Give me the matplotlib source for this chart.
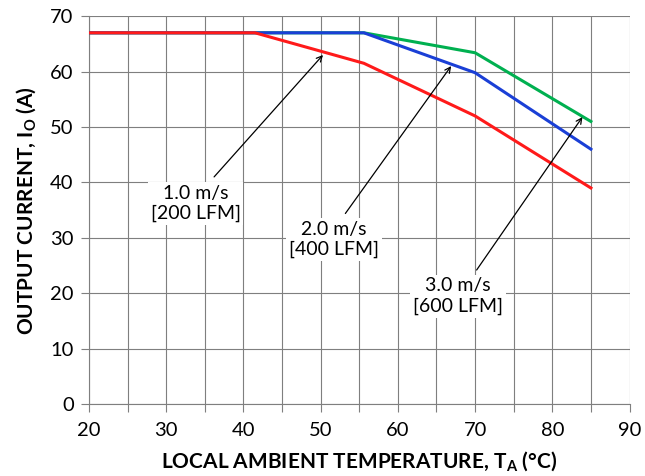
import matplotlib
matplotlib.use("Agg")
import matplotlib.pyplot as plt
from matplotlib.ticker import MultipleLocator

plt.rcParams['font.family'] = ['Lato', 'DejaVu Sans']

# derating curves, output current vs local ambient temperature
temp_1ms = [20, 41.5, 55.6, 70, 85]
curr_1ms = [67, 67, 61.5, 52, 39]
temp_2ms = [20, 55.6, 70, 85]
curr_2ms = [67, 67, 59.8, 46]
temp_3ms = [20, 55.6, 70, 85]
curr_3ms = [67, 67, 63.4, 51]

labels = ["1.0 m/s\n[200 LFM]", "2.0 m/s\n[400 LFM]", "3.0 m/s\n[600 LFM]"]
label_pos = [(33.8, 36.2), (51.7, 29.7), (67.8, 19.5)]
arrow_tail = [(36.2, 41.0), (53.2, 34.4), (70.2, 24.2)]
arrow_tip = [(50.3, 63.0), (66.9, 61.0), (83.9, 51.8)]

fig = plt.figure(figsize=(6.45, 4.76), dpi=100)
ax = fig.add_axes([0.138, 0.151, 0.838, 0.815])

grid_c = '#7f7f7f'
ax.set_xlim(20, 90)
ax.set_ylim(0, 70)
ax.xaxis.set_major_locator(MultipleLocator(10))
ax.xaxis.set_minor_locator(MultipleLocator(5))
ax.yaxis.set_major_locator(MultipleLocator(10))
ax.grid(True, which='both', axis='x', color=grid_c, lw=0.8)
ax.grid(True, which='major', axis='y', color=grid_c, lw=0.8)
ax.set_axisbelow(True)
for s in ['top', 'right']:
    ax.spines[s].set_visible(False)
for s in ['left', 'bottom']:
    ax.spines[s].set_color(grid_c)
    ax.spines[s].set_linewidth(0.8)
ax.tick_params(which='both', color=grid_c, width=0.8, length=6, labelsize=14.5)
ax.tick_params(axis='x', pad=7)
ax.tick_params(axis='y', pad=5)

ax.plot(temp_3ms, curr_3ms, color='#00b050', lw=2.2, zorder=3)
ax.plot(temp_2ms, curr_2ms, color='#1a3fd6', lw=2.2, zorder=4)
ax.plot(temp_1ms, curr_1ms, color='#ff1a1a', lw=2.2, zorder=5)

for lab, (lx, ly), tail, tip in zip(labels, label_pos, arrow_tail, arrow_tip):
    ax.annotate('', xy=tip, xytext=tail,
                arrowprops=dict(arrowstyle='->', color='black', lw=0.9,
                                shrinkA=0, shrinkB=0), zorder=6)
    ax.text(lx, ly, lab, ha='center', va='center', fontsize=14,
            linespacing=1.25, zorder=7,
            bbox=dict(facecolor='white', edgecolor='none', pad=2))

ax.set_xlabel(r'LOCAL AMBIENT TEMPERATURE, T$_\mathregular{A}$ (°C)',
              fontsize=15, fontweight='bold', labelpad=8)
ax.set_ylabel(r'OUTPUT CURRENT, I$_\mathregular{O}$ (A)',
              fontsize=15, fontweight='bold', labelpad=8)

fig.savefig('out.png', dpi=100)
